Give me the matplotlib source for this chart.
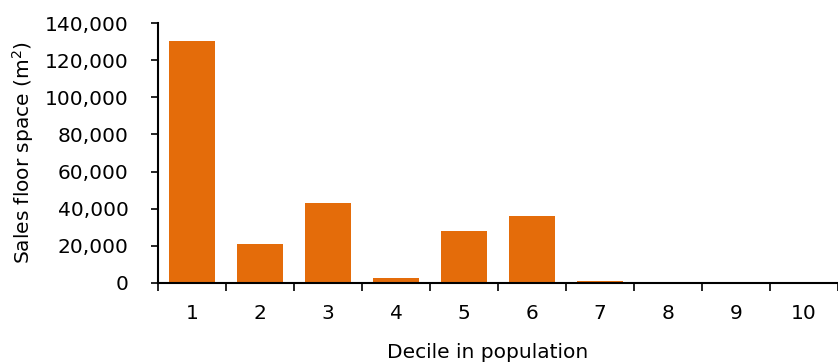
import matplotlib.pyplot as plt
from matplotlib.ticker import FuncFormatter, FixedLocator

deciles = ['1', '2', '3', '4', '5', '6', '7', '8', '9', '10']
floor_space = [130300, 21000, 43000, 2900, 28200, 36000, 1000, 0, 0, 0]

fig = plt.figure(figsize=(8.38, 3.63), dpi=100)
ax = fig.add_axes([0.1885, 0.2204, 0.8115, 0.7162])

x = range(1, len(deciles) + 1)
ax.bar(x, floor_space, width=0.67, color='#E46C0A')

ax.set_xlim(0.5, 10.5)
ax.set_ylim(0, 140000)
ax.set_yticks(range(0, 140001, 20000))
ax.yaxis.set_major_formatter(FuncFormatter(lambda v, p: f'{int(v):,}'))
ax.set_xticks(list(x))
ax.set_xticklabels(deciles)
ax.xaxis.set_minor_locator(FixedLocator([i + 0.5 for i in range(0, 11)]))

ax.tick_params(axis='x', which='major', length=0, pad=15, labelsize=14.5)
ax.tick_params(axis='x', which='minor', length=6, width=1.2, direction='out')
ax.tick_params(axis='y', length=5, width=1.2, direction='out', labelsize=14.5, pad=16)

for s in ['top', 'right']:
    ax.spines[s].set_visible(False)
ax.spines['left'].set_linewidth(1.5)
ax.spines['bottom'].set_linewidth(1.5)

ax.set_ylabel('Sales floor space (m$^2$)', fontsize=14.5)
ax.yaxis.set_label_coords(-0.18, 0.5)
ax.set_xlabel('Decile in population', fontsize=14.5)
ax.xaxis.set_label_coords(0.485, -0.23)

fig.savefig('out.png', dpi=100)
